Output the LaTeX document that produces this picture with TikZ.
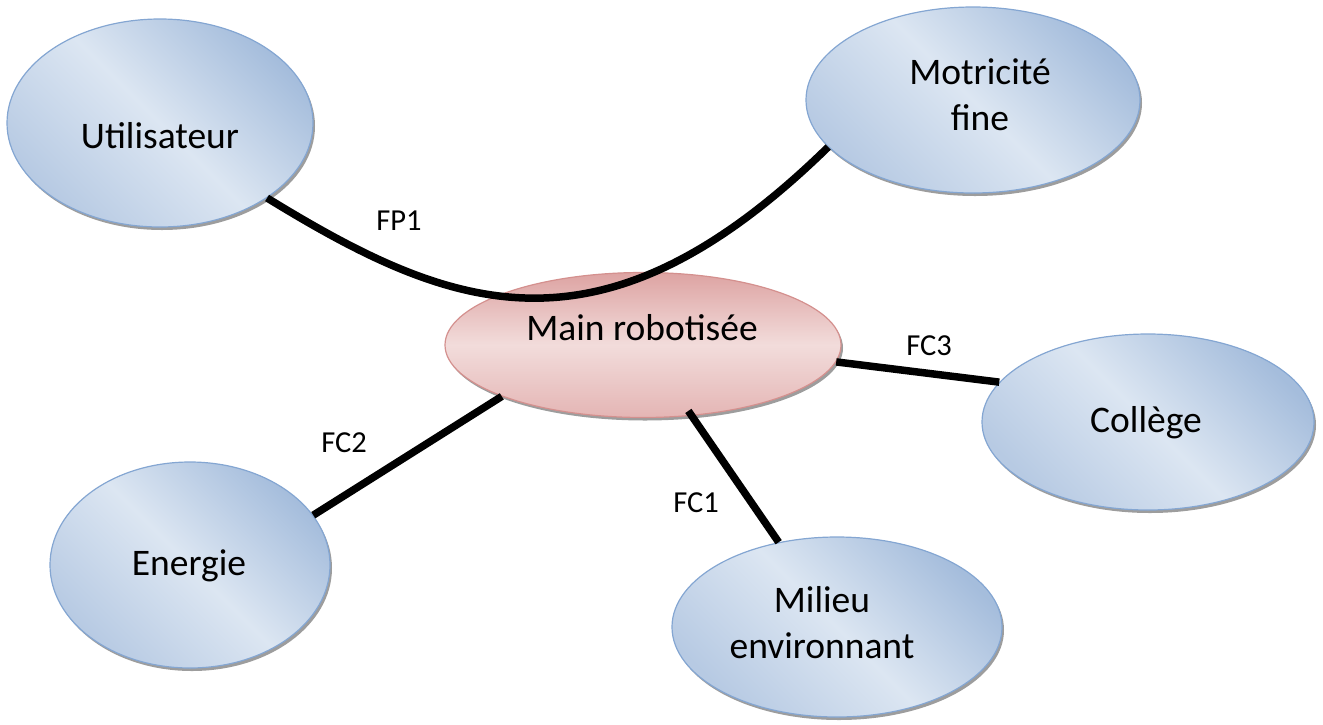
\documentclass[tikz,border=0pt]{standalone}
\usepackage{fontspec}
\setmainfont{Carlito}
\usetikzlibrary{shapes.geometric,shadows}

\definecolor{bleuFonce}{HTML}{A5BDDC}
\definecolor{bleuClair}{HTML}{DCE6F2}
\definecolor{bleuMoyen}{HTML}{B7CAE3}
\definecolor{bleuBord}{HTML}{84A6D2}
\definecolor{roseFonce}{HTML}{DDA3A2}
\definecolor{roseClair}{HTML}{F2DCDB}
\definecolor{roseMoyen}{HTML}{E4B5B4}
\definecolor{roseBord}{HTML}{D4908E}

\begin{document}
\begin{tikzpicture}[x=1pt,y=-1pt,
    bulle/.style={ellipse, draw=bleuBord, line width=1.2pt, inner sep=0pt,
        top color=bleuFonce, bottom color=bleuMoyen, middle color=bleuClair, shading angle=-45,
        drop shadow={shadow xshift=2pt, shadow yshift=-3pt, fill=black!55, opacity=.7}},
    centre/.style={bulle, draw=roseBord,
        top color=roseFonce, bottom color=roseMoyen, middle color=roseClair},
    texte/.style={anchor=base, align=center, font=\fontsize{37.5}{46}\selectfont},
    lien/.style={line width=7.5pt},
    etiq/.style={anchor=base, font=\fontsize{30.5}{36}\selectfont}]
    \useasboundingbox (0,0) rectangle (1323,724);

    % Outer functions around the product
    \node[bulle, minimum width=306, minimum height=208] (util) at (160,123) {};
    \node[bulle, minimum width=334, minimum height=186] (motri) at (973,100) {};
    \node[bulle, minimum width=332, minimum height=176] (college) at (1148,422) {};
    \node[bulle, minimum width=330, minimum height=180] (milieu) at (837,627) {};
    \node[bulle, minimum width=280, minimum height=206] (energie) at (190,565) {};

    % The product itself
    \node[centre, minimum width=396, minimum height=145] (main) at (643,345) {};

    % (base of a two-line text is its last line)
    \node[texte] (tUtil) at (160,148) {Utilisateur};
    \node[texte] (tMotri) at (980,130) {Motricité\\fine};
    \node[texte] (tCollege) at (1146,432) {Collège};
    \node[texte] (tMilieu) at (822,658) {Milieu\\environnant};
    \node[texte] (tEnergie) at (189,575) {Energie};
    \node[texte] (tMain) at (642,340) {Main robotisée};

    % Links
    \draw[lien] (util.-35) .. controls (450,310) and (600,370) .. (motri.198);
    \draw[lien] (main.-5) -- (college.165);
    \draw[lien] (main.200) -- (energie.22);
    \draw[lien, shorten <=-6pt] (main) -- (milieu);

    \node[etiq] (lFP1) at (399,230) {FP1};
    \node[etiq] (lFC3) at (929,355) {FC3};
    \node[etiq] (lFC2) at (344,452) {FC2};
    \node[etiq] (lFC1) at (696,512) {FC1};
\end{tikzpicture}
\end{document}
